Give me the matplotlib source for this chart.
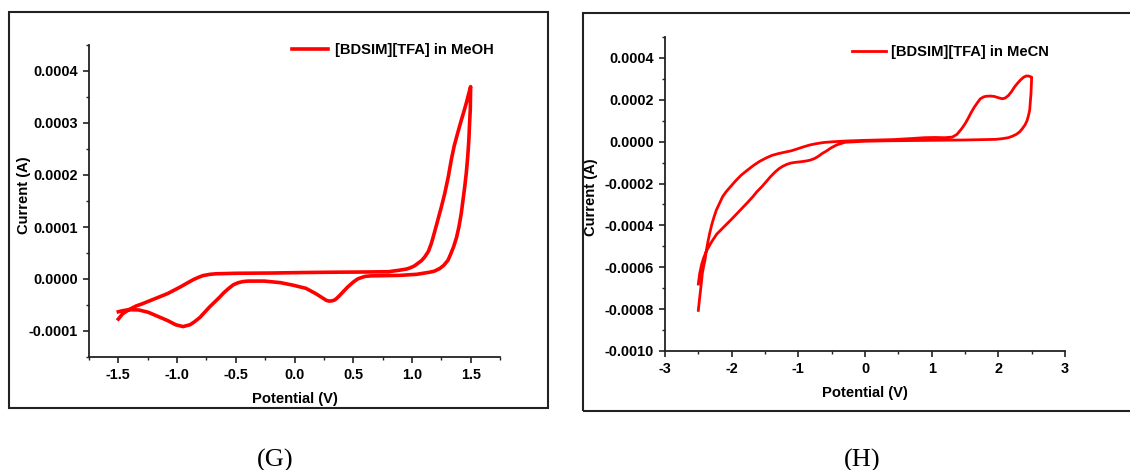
import matplotlib
matplotlib.use("Agg")
import matplotlib.pyplot as plt
import numpy as np
from matplotlib.patches import Rectangle
from matplotlib.ticker import MultipleLocator, FuncFormatter

plt.rcParams["font.family"] = ["Liberation Sans", "DejaVu Sans"]
plt.rcParams["font.weight"] = "bold"
plt.rcParams["axes.unicode_minus"] = False

# CV of [BDSIM][TFA] in MeOH: potential (V), current (1e-4 A), one closed sweep
meoh_potential = [
    -1.50, -1.464, -1.41, -1.35, -1.30, -1.19, -1.08, -0.97, -0.90, -0.86,
    -0.82, -0.78, -0.72, -0.67, -0.50, -0.20, 0.10, 0.30, 0.62, 0.80,
    0.896, 0.95, 0.98, 1.02, 1.05, 1.08, 1.108, 1.14, 1.165, 1.19,
    1.22, 1.25, 1.28, 1.31, 1.335, 1.36, 1.39, 1.42, 1.445, 1.465, 1.482, 1.50,
    1.497, 1.49, 1.485, 1.475, 1.463, 1.45, 1.435, 1.42, 1.40, 1.38,
    1.355, 1.33, 1.307, 1.27, 1.236, 1.19, 1.15, 1.04, 0.90, 0.754,
    0.65, 0.60, 0.56, 0.537, 0.50, 0.455, 0.425, 0.40, 0.37, 0.345,
    0.32, 0.296, 0.27, 0.25, 0.18, 0.098, -0.01, -0.12, -0.258, -0.395,
    -0.44, -0.478, -0.52, -0.56, -0.60, -0.642, -0.724, -0.806, -0.85, -0.89,
    -0.949, -1.012, -1.08, -1.163, -1.245, -1.327, -1.41, -1.464, -1.50,
]
meoh_current = [
    -0.77, -0.67, -0.59, -0.52, -0.48, -0.38, -0.28, -0.15, -0.06, -0.01,
    0.03, 0.065, 0.09, 0.10, 0.11, 0.115, 0.125, 0.13, 0.135, 0.14,
    0.17, 0.19, 0.21, 0.25, 0.30, 0.35, 0.42, 0.53, 0.68, 0.88,
    1.13, 1.38, 1.65, 1.97, 2.29, 2.56, 2.81, 3.05, 3.24, 3.40, 3.55, 3.70,
    3.26, 2.95, 2.68, 2.35, 2.04, 1.78, 1.52, 1.26, 1.00, 0.80,
    0.62, 0.48, 0.36, 0.26, 0.20, 0.15, 0.13, 0.09, 0.07, 0.064,
    0.06, 0.05, 0.02, 0.00, -0.06, -0.15, -0.22, -0.28, -0.35, -0.40,
    -0.42, -0.425, -0.41, -0.38, -0.28, -0.18, -0.12, -0.07, -0.04, -0.04,
    -0.05, -0.07, -0.11, -0.18, -0.26, -0.36, -0.54, -0.74, -0.82, -0.88,
    -0.915, -0.88, -0.80, -0.72, -0.64, -0.595, -0.59, -0.61, -0.63,
]

# CV of [BDSIM][TFA] in MeCN: potential (V), current (1e-4 A)
mecn_potential = [
    -2.50, -2.485, -2.472, -2.455, -2.44, -2.42, -2.40, -2.38, -2.356, -2.33,
    -2.30, -2.265, -2.23, -2.18, -2.136, -2.08, -2.02, -1.94, -1.857, -1.76,
    -1.67, -1.58, -1.484, -1.40, -1.30, -1.20, -1.11, -1.02, -0.925, -0.83,
    -0.74, -0.62, -0.506, -0.30, -0.04, 0.20, 0.43, 0.70, 0.89, 1.05,
    1.20, 1.31, 1.38, 1.45, 1.50, 1.545, 1.59, 1.64, 1.69, 1.73,
    1.78, 1.82, 1.88, 1.94, 2.00, 2.06, 2.10, 2.15, 2.20, 2.24,
    2.29, 2.34, 2.38, 2.42, 2.46, 2.50,
    2.50, 2.495, 2.49, 2.48, 2.47, 2.45, 2.43, 2.40, 2.36, 2.32,
    2.27, 2.21, 2.15, 2.05, 1.96, 1.50, 0.90, 0.30, 0.00, -0.30,
    -0.42, -0.506, -0.58, -0.645, -0.70, -0.76, -0.82, -0.878, -0.94, -0.995,
    -1.05, -1.11, -1.17, -1.23, -1.29, -1.345, -1.42, -1.484, -1.55, -1.624,
    -1.68, -1.76, -1.88, -2.00, -2.11, -2.225, -2.30, -2.375, -2.42, -2.45,
    -2.48, -2.50,
]
mecn_current = [
    -8.06, -7.6, -7.24, -6.75, -6.29, -5.95, -5.65, -5.2, -4.78, -4.38,
    -3.98, -3.6, -3.27, -2.93, -2.63, -2.38, -2.16, -1.87, -1.60, -1.35,
    -1.13, -0.94, -0.78, -0.66, -0.57, -0.50, -0.44, -0.35, -0.25, -0.16,
    -0.10, -0.04, -0.01, 0.03, 0.06, 0.08, 0.10, 0.15, 0.19, 0.20,
    0.19, 0.22, 0.35, 0.62, 0.85, 1.10, 1.38, 1.65, 1.88, 2.05,
    2.14, 2.17, 2.18, 2.16, 2.10, 2.05, 2.08, 2.20, 2.40, 2.60,
    2.80, 2.97, 3.08, 3.14, 3.13, 3.08,
    3.05, 2.7, 2.30, 1.90, 1.50, 1.22, 1.00, 0.80, 0.62, 0.47,
    0.35, 0.26, 0.19, 0.14, 0.11, 0.08, 0.06, 0.04, 0.02, -0.03,
    -0.15, -0.29, -0.45, -0.57, -0.70, -0.81, -0.88, -0.92, -0.95, -0.97,
    -0.99, -1.02, -1.08, -1.17, -1.29, -1.44, -1.68, -1.92, -2.16, -2.40,
    -2.62, -2.90, -3.30, -3.70, -4.05, -4.42, -4.78, -5.20, -5.55, -5.86,
    -6.30, -6.80,
]

meoh_label = "[BDSIM][TFA] in MeOH"
mecn_label = "[BDSIM][TFA] in MeCN"

W, H = 1130, 470
fig = plt.figure(figsize=(W / 100, H / 100), dpi=100)


def px_axes(left, top, right, bottom):
    return fig.add_axes([left / W, 1 - bottom / H, (right - left) / W, (bottom - top) / H])


def px_frame(left, top, right, bottom):
    fig.patches.append(Rectangle((left / W, 1 - bottom / H), (right - left) / W, (bottom - top) / H,
                                 transform=fig.transFigure, fill=False, lw=1.5, ec="#222222"))


def fmt_current(v, pos):
    if abs(v) < 1e-12:
        v = 0.0
    return "%.4f" % v


def style_axes(ax, xmajor, xminor, ymajor, yminor, xfmt, ylab_xy):
    for side in ("top", "right"):
        ax.spines[side].set_visible(False)
    for side in ("left", "bottom"):
        ax.spines[side].set_linewidth(1.3)
        ax.spines[side].set_color("#222222")
    ax.xaxis.set_major_locator(MultipleLocator(xmajor))
    ax.xaxis.set_minor_locator(MultipleLocator(xminor))
    ax.yaxis.set_major_locator(MultipleLocator(ymajor))
    ax.yaxis.set_minor_locator(MultipleLocator(yminor))
    ax.xaxis.set_major_formatter(FuncFormatter(xfmt))
    ax.yaxis.set_major_formatter(FuncFormatter(fmt_current))
    ax.tick_params(which="major", direction="out", length=4, width=1.2, color="#222222",
                   labelsize=10.4, pad=4)
    ax.tick_params(which="minor", direction="out", length=2.5, width=1.0, color="#222222")
    for lab in ax.get_xticklabels() + ax.get_yticklabels():
        lab.set_fontweight("bold")
    ax.set_xlabel("Potential (V)", fontsize=10.6, fontweight="bold", labelpad=7)
    ax.set_ylabel("Current (A)", fontsize=10.6, fontweight="bold")
    ax.yaxis.set_label_coords(*ylab_xy)


# panel G
px_frame(9, 12, 548, 408)
ax1 = px_axes(89, 45, 500, 357)
ax1.plot(meoh_potential, np.array(meoh_current) * 1e-4, color="#ff0000", lw=2.6,
         solid_joinstyle="round", label=meoh_label)
ax1.set_xlim(-1.75, 1.75)
ax1.set_ylim(-0.00015, 0.00045)
style_axes(ax1, 0.5, 0.25, 0.0001, 0.00005, lambda v, p: "%.1f" % (0.0 if abs(v) < 1e-9 else v),
           ((31 - 89) / 411, (357 - 195) / 312))
ax1.legend(loc="center left", bbox_to_anchor=(292 / W, 1 - 50 / H), bbox_transform=fig.transFigure,
           frameon=False, borderpad=0, borderaxespad=0, handlelength=2.45, handletextpad=0.5,
           prop={"weight": "bold", "size": 10.6})

# panel H
px_frame(583, 13, 1135, 411)
ax2 = px_axes(665, 37, 1065, 351)
ax2.plot(mecn_potential, np.array(mecn_current) * 1e-4, color="#ff0000", lw=2.0,
         solid_joinstyle="round", label=mecn_label)
ax2.set_xlim(-3, 3)
ax2.set_ylim(-0.0010, 0.0005)
style_axes(ax2, 1, 0.5, 0.0002, 0.0001, lambda v, p: "%d" % round(v),
           ((598 - 665) / 400, (351 - 197) / 314))
ax2.legend(loc="center left", bbox_to_anchor=(852 / W, 1 - 52 / H), bbox_transform=fig.transFigure,
           frameon=False, borderpad=0, borderaxespad=0, handlelength=2.3, handletextpad=0.35,
           prop={"weight": "bold", "size": 10.6})

fig.text(275 / W, 1 - 460 / H, "(G)", ha="center", va="center", fontsize=19,
         family="Liberation Serif", fontweight="normal")
fig.text(862 / W, 1 - 460 / H, "(H)", ha="center", va="center", fontsize=19,
         family="Liberation Serif", fontweight="normal")

fig.savefig("out.png", dpi=100)
plt.close(fig)
